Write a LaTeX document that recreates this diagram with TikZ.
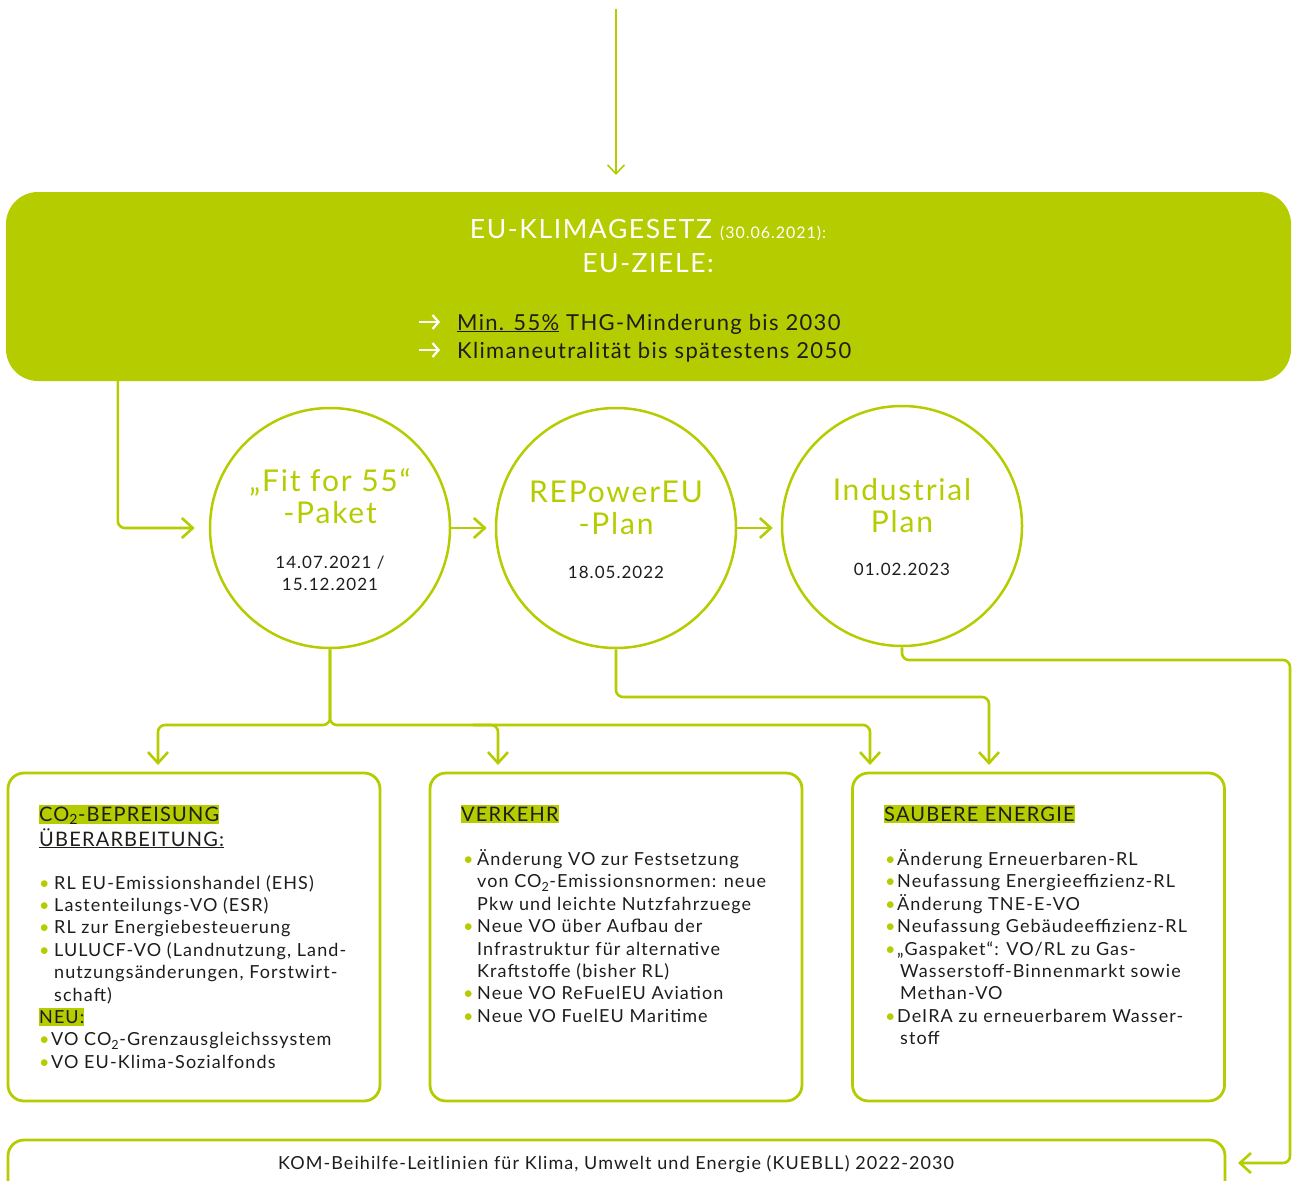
\documentclass[tikz,border=0pt]{standalone}
\usepackage{fontspec}
\setmainfont{Lato}[LetterSpace=6]
\usetikzlibrary{arrows.meta,calc}
\definecolor{kgreen}{HTML}{B5CC00}
\definecolor{ink}{HTML}{1D1D1B}

% green marker highlight behind a heading
\newcommand{\hlmark}[1]{{\setlength{\fboxsep}{0pt}\colorbox{kgreen}{\rule[-2pt]{0pt}{18pt}#1}}}
% green list bullet of a given width
\newcommand{\itm}[1][12pt]{\makebox[#1][l]{\textcolor{kgreen}{\textbullet}}}

\tikzset{
  banner/.style={rectangle, rounded corners=32pt, fill=kgreen, draw=none,
    minimum width=1285pt, minimum height=189pt, inner sep=0pt},
  stage/.style={circle, draw=kgreen, line width=2.5pt, minimum size=240pt, inner sep=0pt},
  topicbox/.style={rectangle, rounded corners=16pt, draw=kgreen, line width=2.8pt,
    minimum width=372pt, minimum height=328pt, inner sep=0pt},
  conn/.style={draw=kgreen, line width=2.6pt, rounded corners=7pt,
    -{Straight Barb[length=11pt,width=20pt,line width=2.6pt]}},
  thinconn/.style={draw=kgreen, line width=1.6pt,
    -{Straight Barb[length=9pt,width=17pt,line width=1.6pt]}},
  goalarrow/.style={draw=white, line width=2.2pt,
    -{Straight Barb[length=6pt,width=14pt,line width=2.2pt]}},
  txt/.style={inner sep=0pt, text=ink},
  title/.style={txt, anchor=base, text=kgreen, font=\fontsize{30}{32}\selectfont},
  datetxt/.style={txt, anchor=base, font=\fontsize{17}{22}\selectfont},
  head/.style={txt, anchor=base west, font=\fontsize{20}{25}\selectfont},
  items/.style={txt, anchor=north west, align=left, font=\fontsize{18}{22.4}\selectfont},
}

\begin{document}
\begin{tikzpicture}[x=1pt,y=-1pt]
\useasboundingbox (0,0) rectangle (1292,1180);
\clip (0,0) rectangle (1292,1180);

% ---------- incoming arrow and climate-law banner ----------
\coordinate (top) at (616,9);
\coordinate (topend) at (616,175);
\draw[thinconn] (top) -- (topend);

\node[banner] (eu) at (648.5,286.5) {};
\node[txt, anchor=base, text=white, font=\fontsize{26.5}{30}\selectfont] (eut1) at (648,238)
  {EU-KLIMAGESETZ {\fontsize{16}{18}\selectfont (30.06.2021):}};
\node[txt, anchor=base, text=white, font=\fontsize{26.5}{30}\selectfont] (eut2) at (648,272) {EU-ZIELE:};
\node[txt, anchor=base west, font=\fontsize{22}{28}\selectfont] (goal1) at (457,330)
  {\underline{Min. 55\%} THG-Minderung bis 2030};
\node[txt, anchor=base west, font=\fontsize{22}{28}\selectfont] (goal2) at (457,358)
  {Klimaneutralität bis spätestens 2050};
\draw[goalarrow] ([xshift=-38pt,yshift=8pt]goal1.base west) -- ([xshift=-17pt,yshift=8pt]goal1.base west);
\draw[goalarrow] ([xshift=-38pt,yshift=8pt]goal2.base west) -- ([xshift=-17pt,yshift=8pt]goal2.base west);

% ---------- the three packages ----------
\node[stage] (c1) at (330,528) {};
\node[stage] (c2) at (616,528) {};
\node[stage] (c3) at (902,526) {};

\node[title] (c1a) at (330,491) {„Fit for 55“};
\node[title] (c1b) at (330,523) {-Paket};
\node[datetxt] (c1d) at (330,568) {14.07.2021 /};
\node[datetxt] (c1e) at (330,590) {15.12.2021};

\node[title] (c2a) at (616,502) {REPowerEU};
\node[title] (c2b) at (616,534) {-Plan};
\node[datetxt] (c2d) at (616,578) {18.05.2022};

\node[title] (c3a) at (902,500) {Industrial};
\node[title] (c3b) at (902,532) {Plan};
\node[datetxt] (c3d) at (902,575) {01.02.2023};

% ---------- topic boxes ----------
\node[topicbox] (b1) at (194,937) {};
\node[topicbox] (b2) at (616,937) {};
\node[topicbox] (b3) at (1038.5,937) {};
\node[topicbox, minimum width=1217pt, minimum height=80pt] (kb) at (616.5,1180) {};

% box 1: carbon pricing
\node[head] (b1h1) at (39,821) {\hlmark{CO\textsubscript{2}-BEPREISUNG}};
\node[head] (b1h2) at (39,846) {\underline{ÜBERARBEITUNG:}};
\node[items] (b1t) at (39,873.3) {%
  \strut\itm[15pt]RL EU-Emissionshandel (EHS)\\
  \itm[15pt]Lastenteilungs-VO (ESR)\\
  \itm[15pt]RL zur Energiebesteuerung\\
  \itm[15pt]LULUCF-VO (Landnutzung, Land-\\
  \hspace*{15pt}nutzungsänderungen, Forstwirt-\\
  \hspace*{15pt}schaft)\\
  \hlmark{NEU:}\\
  \itm VO CO\textsubscript{2}-Grenzausgleichssystem\\
  \itm VO EU-Klima-Sozialfonds};

% box 2: transport
\node[head] (b2h) at (461,821) {\hlmark{VERKEHR}};
\node[items] (b2t) at (463,849.3) {%
  \strut\itm[14pt]Änderung VO zur Festsetzung\\
  \hspace*{14pt}von CO\textsubscript{2}-Emissionsnormen: neue\\
  \hspace*{14pt}Pkw und leichte Nutzfahrzuege\\
  \itm[14pt]Neue VO über Aufbau der\\
  \hspace*{14pt}Infrastruktur für alternative\\
  \hspace*{14pt}Kraftstoffe (bisher RL)\\
  \itm[14pt]Neue VO ReFuelEU Aviation\\
  \itm[14pt]Neue VO FuelEU Maritime};

% box 3: clean energy
\node[head] (b3h) at (884,821) {\hlmark{SAUBERE ENERGIE}};
\node[items] (b3t) at (885,849.3) {%
  \strut\itm Änderung Erneuerbaren-RL\\
  \itm Neufassung Energieeffizienz-RL\\
  \itm Änderung TNE-E-VO\\
  \itm Neufassung Gebäudeeffizienz-RL\\
  \itm „Gaspaket“: VO/RL zu Gas-\\
  \hspace*{15pt}Wasserstoff-Binnenmarkt sowie\\
  \hspace*{15pt}Methan-VO\\
  \itm DeIRA zu erneuerbarem Wasser-\\
  \hspace*{15pt}stoff};

% state-aid guidelines
\node[txt, anchor=base, font=\fontsize{18}{22}\selectfont] (kbt) at (616,1169)
  {KOM-Beihilfe-Leitlinien für Klima, Umwelt und Energie (KUEBLL) 2022-2030};

% ---------- connectors ----------
\draw[conn] ([xshift=112pt]eu.south west) |- ([xshift=-14pt]c1.west);
\draw[conn] (c1.east) -- ([xshift=-8pt]c2.west);
\draw[conn] (c2.east) -- ([xshift=-8pt]c3.west |- c2.east);

\coordinate (j1) at (330,725);
\coordinate (a1) at (158,765);
\coordinate (a2) at (498,765);
\coordinate (a3) at (870,765);
\draw[conn] (c1.south) -- (j1) -| (a1);
\draw[conn] (c1.south) -- (j1) -| (a3);
\draw[conn] ($(a2 |- j1)+(-25,0)$) -| (a2);

\coordinate (j2) at (616,697);
\coordinate (a4) at (989,765);
\draw[conn] (c2.south) -- (j2) -| (a4);

\coordinate (j3) at (902,660);
\coordinate (r1) at (1290,1163);
\coordinate (a5) at (1238,1163);
\draw[conn] (c3.south) -- (j3) -| (r1) -- (a5);
\end{tikzpicture}
\end{document}
